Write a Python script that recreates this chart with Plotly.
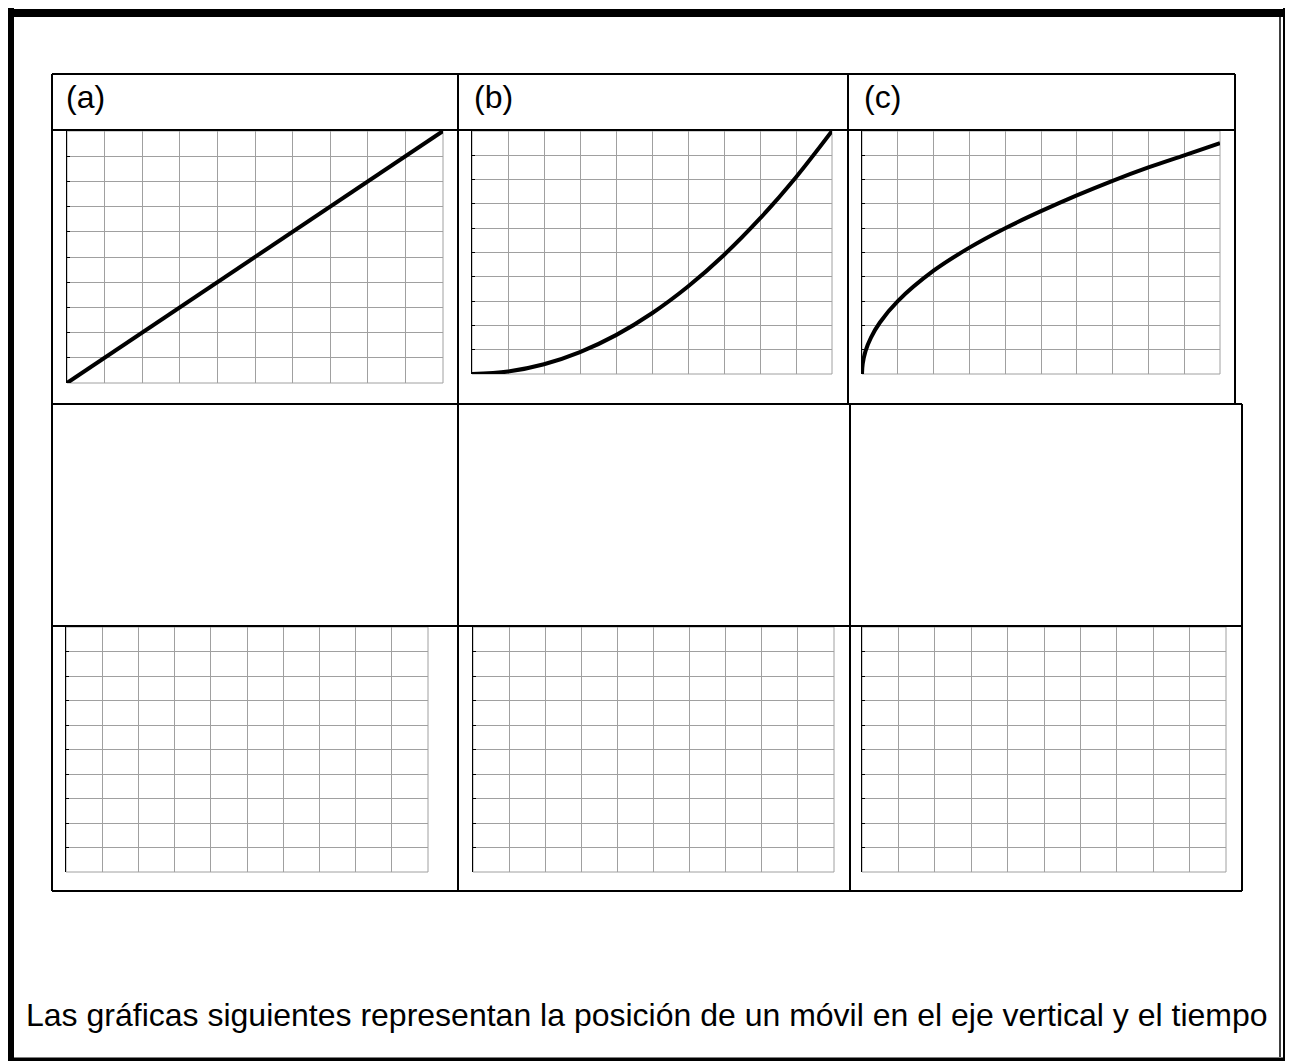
import plotly.graph_objects as go

# ---------------- data ----------------
panel_labels = ["(a)", "(b)", "(c)"]
caption = "Las gráficas siguientes representan la posición de un móvil en el eje vertical y el tiempo"

grid_ticks = [0, 1, 2, 3, 4, 5, 6, 7, 8, 9, 10]

time_a = [0, 10]
pos_a = [0, 10]

time_b = [0, 1, 2, 3, 4, 5, 6, 7, 8, 9, 10]
pos_b = [0, 0.1, 0.4, 0.9, 1.6, 2.5, 3.6, 4.9, 6.4, 8.1, 10]

time_c = [0, 0.02, 0.1, 0.25, 0.5, 1, 2, 3, 4, 5, 6, 7, 8, 9, 10]
pos_c = [0, 0.42, 0.95, 1.5, 2.12, 3.0, 4.25, 5.2, 6.0, 6.7, 7.35, 7.95, 8.5, 9.0, 9.5]

# ---------------- layout helpers ----------------
# the page body has an 8px margin, so the figure starts at (8, 8)
OX, OY = 8, 8
W, H = 1293 - OX, 1061 - OY


def fx(x):
    return (x - OX) / W


def fy(y):
    return 1 - (y - OY) / H


fig = go.Figure()

# grid panels: (x0, x1, ytop, ybottom) in page pixels
panels = [
    (67, 443, 131, 383),
    (472, 832, 131, 374),
    (862, 1220, 131, 374),
    (66, 428, 627, 872),
    (473, 834, 627, 872),
    (862, 1226, 627, 872),
]
series = [(time_a, pos_a), (time_b, pos_b), (time_c, pos_c), None, None, None]

layout_axes = {}
shapes = []
for i, (x0, x1, yt, yb) in enumerate(panels):
    n = "" if i == 0 else str(i + 1)
    xa = dict(domain=[fx(x0), fx(x1)], range=[0, 10], tickvals=grid_ticks,
              showgrid=True, gridcolor="#a0a0a0", gridwidth=1, zeroline=False,
              showticklabels=False, ticks="", showline=False,
              anchor="y" + n, fixedrange=True)
    ya = dict(domain=[fy(yb), fy(yt)], range=[0, 10], tickvals=grid_ticks,
              showgrid=True, gridcolor="#a0a0a0", gridwidth=1, zeroline=False,
              showticklabels=False, ticks="inside", ticklen=3, tickcolor="black",
              tickwidth=1, showline=True, linecolor="black", linewidth=1,
              anchor="x" + n, fixedrange=True)
    layout_axes["xaxis" + n] = xa
    layout_axes["yaxis" + n] = ya
    shapes.append(dict(type="rect", xref="x" + n + " domain", yref="y" + n + " domain",
                       x0=0, x1=1, y0=0, y1=1, line=dict(color="#a0a0a0", width=1), layer="below"))
    s = series[i]
    if s is not None:
        fig.add_trace(go.Scatter(x=s[0], y=s[1], mode="lines",
                                 line=dict(color="black", width=4, shape="spline"),
                                 xaxis="x" + n, yaxis="y" + n, showlegend=False,
                                 hoverinfo="skip", cliponaxis=False))
    else:
        fig.add_trace(go.Scatter(x=[None], y=[None], mode="lines", xaxis="x" + n, yaxis="y" + n,
                                 showlegend=False, hoverinfo="skip"))


def hline(x0, x1, y, w=2):
    shapes.append(dict(type="line", xref="paper", yref="paper", x0=fx(x0), x1=fx(x1), y0=fy(y), y1=fy(y),
                       line=dict(color="black", width=w)))


def vline(x, y0, y1, w=2):
    shapes.append(dict(type="line", xref="paper", yref="paper", x0=fx(x), x1=fx(x), y0=fy(y0), y1=fy(y1),
                       line=dict(color="black", width=w)))


# table lines
hline(52, 1235, 74)
hline(52, 1235, 130)
hline(52, 1242, 404)
hline(52, 1242, 626)
hline(52, 1242, 891)
vline(52, 74, 891)
vline(458, 74, 891)
vline(848, 74, 404)
vline(850, 404, 891)
vline(1235, 74, 404)
vline(1242, 404, 891)

# page border (thick + thin)
hline(8, 1291, 13, 8)
vline(11, 8, 1061, 6)
vline(1280, 17, 1057, 1.5)
vline(1286.5, 8, 1061, 7)
hline(8, 1291, 1059.5, 4)

annotations = []
label_x = [64, 472, 862]
for lab, x in zip(panel_labels, label_x):
    annotations.append(dict(text=lab, xref="paper", yref="paper", x=fx(x), y=fy(97),
                            xanchor="left", yanchor="middle", showarrow=False,
                            font=dict(family="Liberation Sans, Arial", size=32, color="black")))
annotations.append(dict(text=caption, xref="paper", yref="paper", x=fx(647), y=fy(1015),
                        xanchor="center", yanchor="middle", showarrow=False,
                        font=dict(family="Liberation Sans, Arial", size=32, color="black")))

fig.update_layout(width=W, height=H, margin=dict(l=0, r=0, t=0, b=0),
                  paper_bgcolor="white", plot_bgcolor="white",
                  shapes=shapes, annotations=annotations, **layout_axes)

fig.write_html("out.html")
